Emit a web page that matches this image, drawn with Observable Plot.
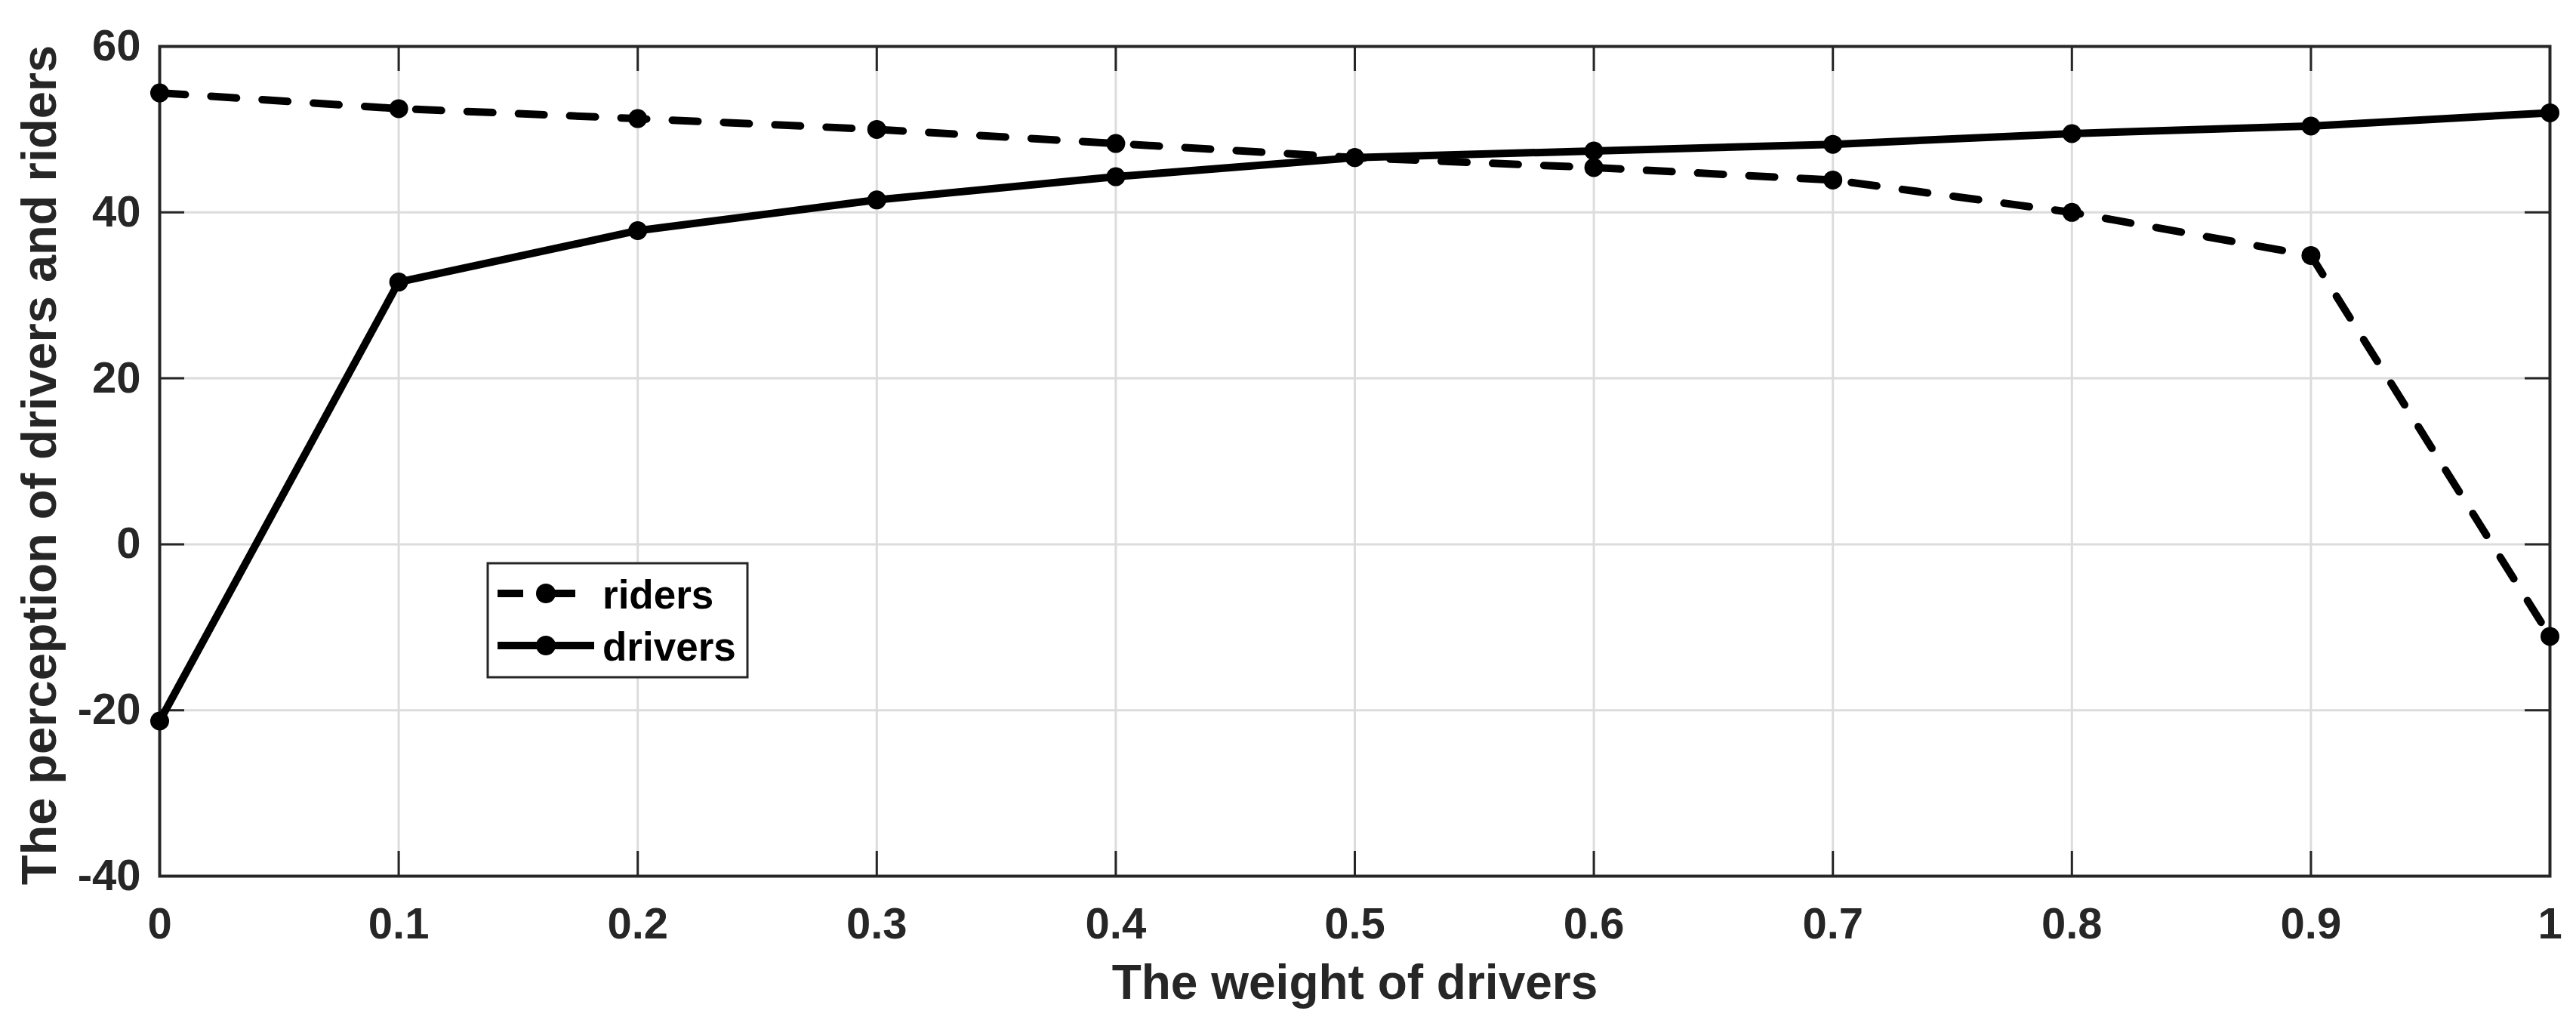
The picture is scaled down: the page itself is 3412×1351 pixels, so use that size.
<!DOCTYPE html>
<html>
<head>
<meta charset="utf-8">
<script src="https://cdn.jsdelivr.net/npm/d3@7"></script>
<script src="https://cdn.jsdelivr.net/npm/@observablehq/plot@0.6"></script>
<style>
  html, body { margin: 0; padding: 0; background: #fff; overflow: hidden; }
  #chart { position: relative; width: 3412px; height: 1351px; }
</style>
</head>
<body>
<div id="chart"></div>
<script>
// ---- data ----
const xValues = [0, 0.1, 0.2, 0.3, 0.4, 0.5, 0.6, 0.7, 0.8, 0.9, 1];
const riders  = [54.4, 52.5, 51.3, 50.0, 48.3, 46.6, 45.4, 43.9, 40.0, 34.8, -11.1];
const drivers = [-21.3, 31.6, 37.8, 41.5, 44.3, 46.6, 47.4, 48.2, 49.5, 50.4, 52.0];
const seriesNames = ["riders", "drivers"];
const xTickLabels = ["0", "0.1", "0.2", "0.3", "0.4", "0.5", "0.6", "0.7", "0.8", "0.9", "1"];
const yTicks = [-40, -20, 0, 20, 40, 60];
const yTickLabels = ["-40", "-20", "0", "20", "40", "60"];
const xLabel = "The weight of drivers";
const yLabel = "The perception of drivers and riders";

const ridersData = xValues.map((x, i) => ({x, y: riders[i], series: seriesNames[0]}));
const driversData = xValues.map((x, i) => ({x, y: drivers[i], series: seriesNames[1]}));

const W = 3412, H = 1351;
const mL = 211, mR = 35, mT = 61, mB = 191;
const innerW = W - mL - mR, innerH = H - mT - mB;
const tickLen = 33;
const ink = "#262626";
const font = "'Liberation Sans', Arial, Helvetica, sans-serif";

const plot = Plot.plot({
  width: W,
  height: H,
  marginLeft: mL, marginRight: mR, marginTop: mT, marginBottom: mB,
  style: {fontFamily: font, fontWeight: "bold", background: "#fff", color: ink, overflow: "visible"},
  x: {domain: [0, 1]},
  y: {domain: [-40, 60]},
  marks: [
    Plot.gridX(xValues, {stroke: "#dcdcdc", strokeOpacity: 1, strokeWidth: 3}),
    Plot.gridY(yTicks, {stroke: "#dcdcdc", strokeOpacity: 1, strokeWidth: 3}),
    // inward ticks on all four sides
    Plot.ruleX(xValues, {stroke: ink, strokeWidth: 3, insetTop: innerH - tickLen}),
    Plot.ruleX(xValues, {stroke: ink, strokeWidth: 3, insetBottom: innerH - tickLen}),
    Plot.ruleY(yTicks, {stroke: ink, strokeWidth: 3, insetRight: innerW - tickLen}),
    Plot.ruleY(yTicks, {stroke: ink, strokeWidth: 3, insetLeft: innerW - tickLen}),
    Plot.frame({stroke: ink, strokeWidth: 4}),
    Plot.axisX({ticks: xValues, tickFormat: d => xTickLabels[xValues.indexOf(d)], tickSize: 0, tickPadding: 41,
                fontSize: 58, fontWeight: "bold", fill: ink, label: null}),
    Plot.axisY({ticks: yTicks, tickFormat: d => yTickLabels[yTicks.indexOf(d)], tickSize: 0, tickPadding: 25,
                fontSize: 58, fontWeight: "bold", fill: ink, label: null}),
    Plot.text([xLabel], {frameAnchor: "bottom", dy: 142, text: d => d, fontSize: 64, fontWeight: "bold",
                         fill: ink, lineAnchor: "middle", textAnchor: "middle"}),
    Plot.text([yLabel], {frameAnchor: "left", dx: -158, dy: 5, rotate: -90, text: d => d, fontSize: 65, fontWeight: "bold",
                         fill: ink, lineAnchor: "middle", textAnchor: "middle"}),
    Plot.line(ridersData, {x: "x", y: "y", stroke: "#000", strokeWidth: 10, strokeDasharray: "34,34", strokeLinejoin: "miter"}),
    Plot.line(driversData, {x: "x", y: "y", stroke: "#000", strokeWidth: 10}),
    Plot.dot(ridersData, {x: "x", y: "y", r: 12.5, fill: "#000"}),
    Plot.dot(driversData, {x: "x", y: "y", r: 12.5, fill: "#000"})
  ]
});

// ---- legend (drawn into the same svg) ----
const svg = d3.select(plot);
const lg = svg.append("g").attr("font-family", font).attr("font-weight", "bold").attr("text-anchor", "start");
lg.append("rect").attr("x", 646).attr("y", 746).attr("width", 344).attr("height", 151)
  .attr("fill", "#fff").attr("stroke", ink).attr("stroke-width", 3);
// riders entry
lg.append("line").attr("x1", 659).attr("x2", 693).attr("y1", 786).attr("y2", 786).attr("stroke", "#000").attr("stroke-width", 10);
lg.append("line").attr("x1", 712).attr("x2", 762).attr("y1", 786).attr("y2", 786).attr("stroke", "#000").attr("stroke-width", 10);
lg.append("circle").attr("cx", 723).attr("cy", 786).attr("r", 13).attr("fill", "#000");
lg.append("text").attr("x", 798).attr("y", 806).attr("font-size", 53).attr("fill", "#000").attr("text-anchor", "start").text(seriesNames[0]);
// drivers entry
lg.append("line").attr("x1", 659).attr("x2", 787).attr("y1", 855).attr("y2", 855).attr("stroke", "#000").attr("stroke-width", 10);
lg.append("circle").attr("cx", 723).attr("cy", 855).attr("r", 13).attr("fill", "#000");
lg.append("text").attr("x", 798).attr("y", 875).attr("font-size", 53).attr("fill", "#000").attr("text-anchor", "start").text(seriesNames[1]);

document.getElementById("chart").appendChild(plot);
</script>
</body>
</html>
